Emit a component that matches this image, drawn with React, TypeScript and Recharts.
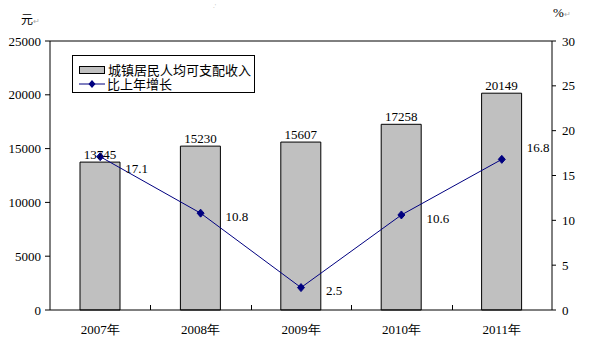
import {
  ComposedChart, Bar, Line, XAxis, YAxis, Legend,
  ReferenceLine, LabelList
} from 'recharts';

const years = ['2007年', '2008年', '2009年', '2010年', '2011年'];
const income = [13745, 15230, 15607, 17258, 20149];
const growth = [17.1, 10.8, 2.5, 10.6, 16.8];
const leftTicks = [0, 5000, 10000, 15000, 20000, 25000];
const rightTicks = [0, 5, 10, 15, 20, 25, 30];

const data = years.map((year, i) => ({ year, income: income[i], growth: growth[i] }));

const NUM_FONT = '"Liberation Serif", serif';
const CJK_FONT = '"Noto Sans CJK SC", sans-serif';
const NAVY = '#000080';

// label offsets for the growth line (relative to each point)
const growthLabelDy = [12, 3, 3, 3, -12];

const Diamond = (props: any) => {
  const { cx, cy } = props;
  if (cx == null || cy == null) return <g />;
  return (
    <path
      d={`M${cx},${cy - 4}L${cx + 3.5},${cy}L${cx},${cy + 4}L${cx - 3.5},${cy}Z`}
      fill={NAVY}
      stroke={NAVY}
    />
  );
};

const GrowthLabel = (props: any) => {
  const { x, y, value, index } = props;
  return (
    <text
      x={x + 25}
      y={y + growthLabelDy[index]}
      dy="0.35em"
      fontSize={13}
      fontFamily={NUM_FONT}
      fill="#000"
    >
      {value}
    </text>
  );
};

// short upward tick at the bottom of a reference line (category boundary)
const BoundaryTick = (props: any) => {
  const { x1, y1, x2, y2 } = props;
  if (x1 == null || y1 == null) return <g />;
  const bx = Math.round((x1 + x2) / 2) + 0.5;
  const by = Math.max(y1, y2);
  return <line x1={bx} y1={by} x2={bx} y2={by - 5} stroke="#000" strokeWidth={1} />;
};

const renderLegend = () => (
  <div style={{
    border: '1px solid #000',
    background: '#fff',
    width: 183,
    height: 38,
    boxSizing: 'border-box',
    padding: '7px 0 0 6px',
    fontFamily: CJK_FONT,
    fontSize: 13,
    lineHeight: '14px',
    color: '#000',
  }}>
    <div style={{ display: 'flex', alignItems: 'center', height: 14, whiteSpace: 'nowrap' }}>
      <span style={{
        display: 'inline-block', width: 24, height: 6,
        background: '#C0C0C0', border: '1px solid #000', marginRight: 3,
      }} />
      城镇居民人均可支配收入
    </div>
    <div style={{ display: 'flex', alignItems: 'center', height: 14, whiteSpace: 'nowrap' }}>
      <svg width={26} height={10} style={{ marginRight: 2 }}>
        <line x1={0} y1={5} x2={26} y2={5} stroke={NAVY} strokeWidth={1} />
        <path d="M13,1L16.5,5L13,9L9.5,5Z" fill={NAVY} />
      </svg>
      比上年增长
    </div>
  </div>
);

export default function App() {
  return (
    <div style={{ position: 'absolute', left: 0, top: 0, width: 612, height: 357, background: '#fff' }}>
      <ComposedChart
        width={612}
        height={357}
        data={data}
        margin={{ top: 41, right: 0, bottom: 17, left: 0 }}
        barCategoryGap={0}
      >
        <XAxis
          dataKey="year"
          height={30}
          axisLine={{ stroke: '#000' }}
          tickLine={false}
          tickSize={0}
          tickMargin={15}
          interval={0}
          tick={{ fontSize: 13, fontFamily: NUM_FONT, fill: '#000' }}
        />
        <YAxis
          yAxisId="left"
          width={50}
          domain={[0, 25000]}
          ticks={leftTicks}
          interval={0}
          axisLine={{ stroke: '#000' }}
          tickLine={{ stroke: '#000' }}
          tickSize={5}
          tickMargin={4}
          tick={{ fontSize: 13, fontFamily: NUM_FONT, fill: '#000' }}
        />
        <YAxis
          yAxisId="right"
          orientation="right"
          width={60}
          domain={[0, 30]}
          ticks={rightTicks}
          interval={0}
          axisLine={{ stroke: '#000' }}
          tickLine={{ stroke: '#000' }}
          tickSize={4}
          tickMargin={6}
          tick={{ fontSize: 13, fontFamily: NUM_FONT, fill: '#000', textAnchor: 'start' }}
        />
        <ReferenceLine yAxisId="left" y={25000} stroke="#000" />
        {years.slice(0, -1).map((year) => (
          <ReferenceLine
            key={year}
            yAxisId="left"
            x={year}
            position="end"
            stroke="#000"
            shape={<BoundaryTick />}
          />
        ))}
        <Legend
          layout="horizontal"
          verticalAlign="middle"
          align="center"
          content={renderLegend}
          wrapperStyle={{ position: 'absolute', left: 72, top: 55, width: 183, height: 38 }}
        />
        <Bar
          yAxisId="left"
          dataKey="income"
          barSize={40}
          fill="#C0C0C0"
          stroke="#000"
          strokeWidth={1}
          isAnimationActive={false}
        >
          <LabelList
            dataKey="income"
            position="top"
            offset={3}
            style={{ fontSize: 13, fontFamily: NUM_FONT, fill: '#000' }}
          />
        </Bar>
        <Line
          yAxisId="right"
          dataKey="growth"
          stroke={NAVY}
          strokeWidth={1}
          dot={<Diamond />}
          activeDot={false}
          isAnimationActive={false}
        >
          <LabelList dataKey="growth" content={<GrowthLabel />} />
        </Line>
      </ComposedChart>
      <div style={{ position: 'absolute', left: 21, top: 11, fontFamily: CJK_FONT, fontSize: 12, lineHeight: '16px' }}>
        元<span style={{ color: '#aaa', fontSize: 8 }}>↵</span>
      </div>
      <div style={{ position: 'absolute', left: 553, top: 5, fontFamily: NUM_FONT, fontSize: 13, lineHeight: '16px' }}>
        %<span style={{ color: '#aaa', fontSize: 8 }}>↵</span>
      </div>
      <div style={{ position: 'absolute', left: 213, top: 2, color: '#bbb', fontSize: 7 }}>.'</div>
    </div>
  );
}
